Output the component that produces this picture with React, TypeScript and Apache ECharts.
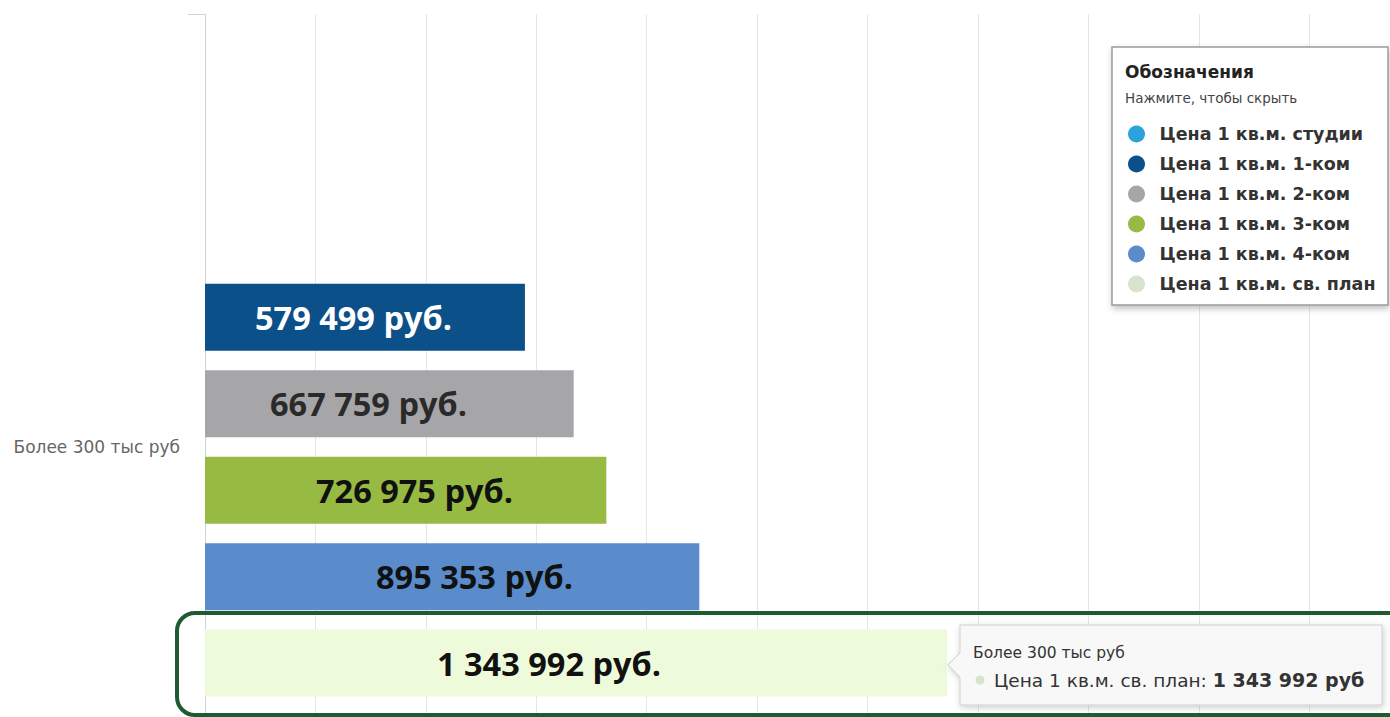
import React, { useEffect, useRef } from "react";
import * as echarts from "echarts";

const categories = ["Более 300 тыс руб"];
const seriesNames = [
  "Цена 1 кв.м. студии",
  "Цена 1 кв.м. 1-ком",
  "Цена 1 кв.м. 2-ком",
  "Цена 1 кв.м. 3-ком",
  "Цена 1 кв.м. 4-ком",
  "Цена 1 кв.м. св. план",
];
const seriesValues: (number | null)[] = [null, 579499, 667759, 726975, 895353, 1343992];
const xTicks = { min: 0, max: 2400000, interval: 200000 };

const barColors = ["#2ba3da", "#0b5089", "#a6a6a8", "#97bb42", "#5a8ccb", "#eefbda"];
const legendColors = ["#2ba3da", "#0b5089", "#a6a6a8", "#97bb42", "#5a8ccb", "#d8e3cb"];
const labelColors = ["#ffffff", "#ffffff", "#2a2a2a", "#111111", "#111111", "#111111"];
const labelLeft = [50, 50, 65, 111, 171, 232];

const fmt = (v: number) => String(v).replace(/\B(?=(\d{3})+(?!\d))/g, " ");

export default function App() {
  const ref = useRef<HTMLDivElement>(null);
  useEffect(() => {
    if (!ref.current) return;
    const chart = echarts.init(ref.current, null, { renderer: "svg" });
    const hi = seriesValues.length - 1;
    const option: any = {
      animation: false,
      backgroundColor: "#ffffff",
      grid: { left: 205, top: 14, width: 1325, height: 866, containLabel: false },
      xAxis: {
        type: "value",
        min: xTicks.min,
        max: xTicks.max,
        interval: xTicks.interval,
        axisLine: { show: false },
        axisTick: { show: false },
        axisLabel: { show: false },
        splitLine: { show: true, lineStyle: { color: "#e6e6e6", width: 1 } },
      },
      yAxis: {
        type: "category",
        data: categories,
        inverse: true,
        axisLine: { show: true, lineStyle: { color: "#cfd4dc", width: 1 } },
        axisTick: { show: true, length: 17, lineStyle: { color: "#cfd4dc" } },
        axisLabel: {
          color: "#666666",
          fontSize: 17,
          fontFamily: "DejaVu Sans",
          margin: 25,
        },
      },
      legend: {
        orient: "vertical",
        left: 1128,
        top: 125,
        padding: 0,
        itemWidth: 36,
        itemHeight: 17,
        itemGap: 12,
        icon: "circle",
        z: 6,
        textStyle: {
          fontFamily: "DejaVu Sans",
          fontWeight: "bold",
          fontSize: 17.5,
          color: "#333333",
          lineHeight: 17,
        },
        data: seriesNames.map((n, i) => ({ name: n, itemStyle: { color: legendColors[i] } })),
      },
      series: seriesNames.map((name, i) => ({
        type: "bar",
        name,
        data: [seriesValues[i]],
        barWidth: 67,
        barGap: "29%",
        itemStyle: { color: barColors[i] },
        label: {
          show: seriesValues[i] != null,
          position: [labelLeft[i], "50%"],
          align: "left",
          verticalAlign: "middle",
          fontFamily: "Open Sans",
          fontWeight: "bold",
          fontSize: 32.5,
          color: labelColors[i],
          formatter: (p: any) => fmt(p.value) + " руб.",
        },
      })),
      graphic: [
        {
          type: "rect",
          z: 3,
          shape: { x: 1112, y: 47, width: 276, height: 258 },
          style: {
            fill: "#ffffff",
            stroke: "#9a9a9a",
            lineWidth: 1.5,
            shadowBlur: 6,
            shadowOffsetX: 1,
            shadowOffsetY: 3,
            shadowColor: "rgba(0,0,0,0.25)",
          },
        },
        {
          type: "text",
          z: 6,
          x: 1125,
          y: 72,
          style: {
            text: "Обозначения",
            fontFamily: "DejaVu Sans",
            fontWeight: "bold",
            fontSize: 17,
            fill: "#222222",
            verticalAlign: "middle",
          },
        },
        {
          type: "text",
          z: 6,
          x: 1125,
          y: 98,
          style: {
            text: "Нажмите, чтобы скрыть",
            fontFamily: "DejaVu Sans",
            fontSize: 13.5,
            fill: "#444444",
            verticalAlign: "middle",
          },
        },
        {
          type: "polygon",
          z: 20,
          shape: {
            points: [
              [960, 625],
              [1382, 625],
              [1382, 705],
              [960, 705],
              [960, 677],
              [948, 665],
              [960, 653],
            ],
          },
          style: {
            fill: "#f8f8f8",
            stroke: "#cfcfcf",
            lineWidth: 1,
            shadowBlur: 6,
            shadowOffsetX: 1,
            shadowOffsetY: 2,
            shadowColor: "rgba(0,0,0,0.2)",
          },
        },
        {
          type: "text",
          z: 21,
          x: 973,
          y: 653,
          style: {
            text: categories[0],
            fontFamily: "DejaVu Sans",
            fontSize: 15.5,
            fill: "#333333",
            verticalAlign: "middle",
          },
        },
        {
          type: "circle",
          z: 21,
          shape: { cx: 980, cy: 680, r: 4.5 },
          style: { fill: legendColors[hi] },
        },
        {
          type: "text",
          z: 21,
          x: 994,
          y: 680,
          style: {
            text: "{n|" + seriesNames[hi] + ": }{b|" + fmt(seriesValues[hi] as number) + " руб}",
            verticalAlign: "middle",
            rich: {
              n: { fontFamily: "DejaVu Sans", fontSize: 18.5, fill: "#333333", color: "#333333" },
              b: { fontFamily: "DejaVu Sans", fontSize: 19, fontWeight: "bold", fill: "#333333", color: "#333333" },
            },
          },
        },
        {
          type: "rect",
          z: 30,
          shape: { x: 177, y: 613, width: 1260, height: 102, r: 18 },
          style: { fill: "none", stroke: "#1e5b30", lineWidth: 4 },
        },
      ],
    };
    chart.setOption(option);
    return () => chart.dispose();
  }, []);
  return (
    <div style={{ position: "absolute", left: 0, top: 0, width: 1390, height: 717, overflow: "hidden" }}>
      <div ref={ref} style={{ width: 1600, height: 900 }} />
    </div>
  );
}
